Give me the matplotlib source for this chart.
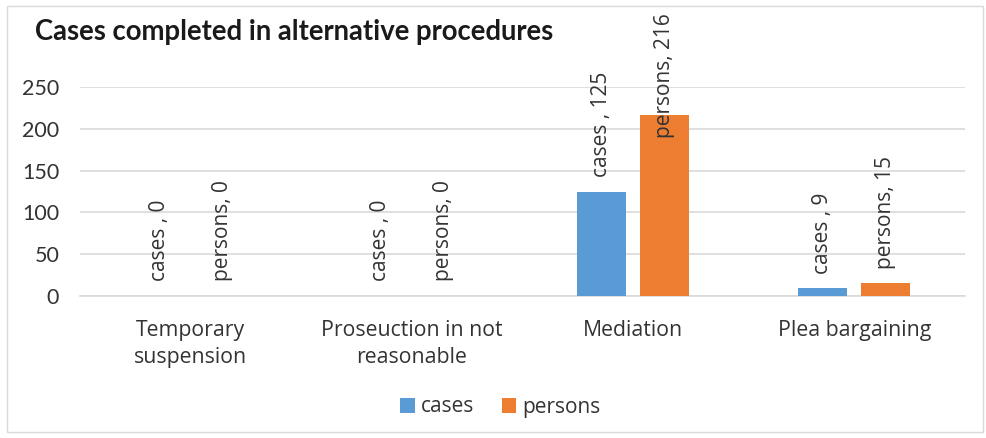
import matplotlib
matplotlib.use("Agg")
import matplotlib.pyplot as plt
from matplotlib.patches import Rectangle
import numpy as np

categories = ["Temporary\nsuspension", "Proseuction in not\nreasonable", "Mediation", "Plea bargaining"]
series_names = ["cases", "persons"]
cases = [0, 0, 125, 9]
persons = [0, 0, 216, 15]
yticks = [0, 50, 100, 150, 200, 250]
title = "Cases completed in alternative procedures"

colors = ["#5B9BD5", "#ED7D31"]
txt = "#333333"
W, H = 987, 438
fig = plt.figure(figsize=(W / 100, H / 100), dpi=100)
ax = fig.add_axes([80 / W, 1 - 296 / H, (965 - 80) / W, (296 - 87) / H])

x = np.arange(len(categories))
bw = 0.222
off = 0.1425
labels = []
for i, (name, vals) in enumerate(zip(series_names, [cases, persons])):
    xs = x + (i * 2 - 1) * off
    ax.bar(xs, vals, width=bw, color=colors[i], label=name, zorder=3)
    for xi, v in zip(xs, vals):
        a = ax.annotate(f"{name}, {v}" if name == "persons" else f"{name} , {v}",
                        xy=(xi, v), xytext=(0, 10.5), textcoords="offset points",
                        rotation=90, ha="center", va="bottom",
                        fontsize=15, family="Open Sans", color=txt,
                        annotation_clip=False)
        labels.append(a)

ax.set_xlim(-0.5, len(categories) - 0.5)
ax.set_ylim(0, 250)
ax.set_yticks(yticks)
ax.set_xticks(x)
ax.set_xticklabels(categories, family="Open Sans", fontsize=15.3, color=txt, linespacing=1.42)
ax.tick_params(axis="x", length=0, pad=17)
ax.tick_params(axis="y", length=0, pad=15, labelsize=15.5, labelcolor=txt)
for t in ax.get_yticklabels():
    t.set_family("Lato")
ax.grid(axis="y", color="#d9d9d9", linewidth=1.2, zorder=0)
for s in ["left", "right", "top"]:
    ax.spines[s].set_visible(False)
ax.spines["bottom"].set_color("#d9d9d9")
ax.spines["bottom"].set_linewidth(1.2)

fig.text(35 / W, 1 - 32 / H, title, fontsize=19.8, fontweight="bold", family="Lato",
         color="#1a1a1a", ha="left", va="center")

leg = fig.legend(loc="center", bbox_to_anchor=(0.507, 1 - 407 / H), ncol=2, frameon=False,
                 prop={"family": "Open Sans", "size": 15}, handlelength=0.7, handleheight=0.7,
                 handletextpad=0.3, columnspacing=1.3)
for t in leg.get_texts():
    t.set_color(txt)

fig.patches.append(Rectangle((7 / W, 1 - 432 / H), (983 - 7) / W, (432 - 6) / H,
                             transform=fig.transFigure, fill=False, edgecolor="#d9d9d9", linewidth=1))

# keep data labels inside the chart area (like Excel)
fig.canvas.draw()
r = fig.canvas.get_renderer()
limit = H - 13
for a in labels:
    bb = a.get_window_extent(r)
    if bb.y1 > limit:
        dy = (bb.y1 - limit) * 72 / fig.dpi
        ox, oy = a.xyann
        a.xyann = (ox, oy - dy)

fig.savefig("out.png", dpi=100)
